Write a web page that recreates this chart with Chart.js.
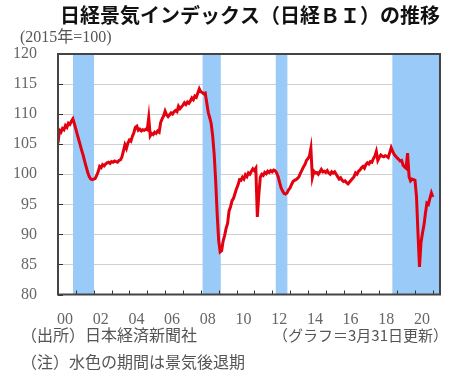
<!DOCTYPE html>
<html lang="ja">
<head>
<meta charset="utf-8">
<script src="https://cdn.jsdelivr.net/npm/chart.js@4"></script>
<style>
  html, body { margin:0; padding:0; background:#fff; }
  canvas { display:block; }
</style>
</head>
<body>
<canvas id="biChart" width="461" height="377"></canvas>
<script>
// 日経BI, monthly, Jan 2000 - Jan 2021 (2015=100)
const startYear = 2000;
const biValues = [
  105.2, 107.3, 107.0, 107.6, 107.4, 108.1, 107.8, 108.5, 108.3, 108.8, 109.2, 108.4, // 2000
  107.5, 106.6, 105.7, 104.8, 103.9, 103.1, 102.1, 101.2, 100.3,  99.6,  99.2,  99.1, // 2001
   99.2,  99.3,  99.8, 100.4, 101.3, 101.1, 101.6, 101.4, 101.7, 101.9, 102.0, 101.8, // 2002
  102.1, 102.0, 102.2, 102.1, 102.0, 102.3, 102.4, 102.9, 103.9, 104.9, 104.3, 105.2, // 2003
  105.7, 105.5, 106.3, 106.9, 107.8, 108.0, 107.3, 107.5, 107.2, 107.4, 107.3, 107.5, // 2004
  107.4, 109.4, 106.4, 106.8, 106.6, 107.0, 106.8, 107.2, 107.0, 108.6, 109.2, 109.7, // 2005
  110.5, 109.9, 109.6, 109.9, 110.2, 110.0, 110.4, 110.6, 110.4, 111.3, 110.9, 111.2, // 2006
  111.5, 111.9, 111.6, 112.0, 111.8, 112.2, 112.7, 112.4, 113.0, 112.8, 113.5, 114.2, // 2007
  113.7, 113.6, 113.4, 113.5, 111.9, 110.3, 109.4, 108.4, 106.3, 103.3,  98.9,  93.4, // 2008
   89.0,  87.1,  87.3,  88.9,  89.8,  91.0,  91.8,  93.9,  94.6,  95.6,  96.0,  96.8, // 2009
   97.6,  98.2,  99.1,  99.0,  99.5,  99.2,  99.9,  99.6, 100.2, 100.0, 100.5, 100.9, // 2010
  100.6, 101.0,  92.9,  96.6,  99.5, 100.0,  99.8, 100.3, 100.1, 100.5, 100.3, 100.6, // 2011
  100.4, 100.7, 100.6, 100.2,  99.6,  98.6,  97.7,  97.2,  96.8,  96.7,  96.9,  97.4, // 2012
   97.7,  98.3,  98.8,  99.0,  99.1,  99.3,  99.6, 100.2, 100.7, 101.2, 101.6, 102.3, // 2013
  102.6, 103.0, 104.3,  99.5, 100.5, 100.2, 100.3, 100.0, 100.4, 100.8, 100.4, 100.5, // 2014
  100.3, 100.6, 100.2, 100.0, 100.4, 100.2, 100.4, 100.0,  99.6,  99.2,  99.4,  99.0, // 2015
   98.8,  98.9,  98.6,  98.4,  98.7,  99.0,  99.3,  99.6, 100.2, 100.0, 100.5, 100.7, // 2016
  101.1, 101.3, 101.0, 101.6, 101.9, 101.7, 102.1, 102.0, 102.6, 103.0, 103.8, 102.3, // 2017
  102.8, 103.2, 103.0, 102.9, 103.1, 103.0, 102.8, 103.6, 104.4, 103.8, 103.3, 103.0, // 2018
  102.7, 102.5, 102.2, 102.3, 101.5, 101.2, 101.0, 103.5,  99.6,  98.9,  99.2,  99.1, // 2019
   99.0,  96.3,  90.2,  84.6,  88.6,  90.2,  91.5,  93.5,  95.2,  95.0,  96.0,  96.9, // 2020
   96.2                                                                                // 2021
];

// recession periods (shaded), as decimal years; null = still open
const recessionStart = [2000.84, 2008.1, 2012.2, 2018.73];
const recessionEnd   = [2002.02, 2009.12, 2012.85, null];

const xTickYears  = [2000, 2002, 2004, 2006, 2008, 2010, 2012, 2014, 2016, 2018, 2020];
const xTickLabels = ['00', '02', '04', '06', '08', '10', '12', '14', '16', '18', '20'];

const points = biValues.map((v, i) => ({ x: startYear + i / 12, y: v }));

const serif = "'Liberation Serif', 'Noto Sans CJK JP', serif";

const decor = {
  id: 'decor',
  beforeDatasetsDraw(chart) {
    const { ctx, chartArea: a, scales: { x } } = chart;
    ctx.save();
    ctx.fillStyle = '#9acbf8';
    recessionStart.forEach((s, i) => {
      const x1 = x.getPixelForValue(s);
      const x2 = recessionEnd[i] == null ? a.right : x.getPixelForValue(recessionEnd[i]);
      ctx.fillRect(x1, a.top, x2 - x1, a.bottom - a.top);
    });
    ctx.restore();
  },
  afterDatasetsDraw(chart) {
    const { ctx, chartArea: a, scales: { x, y } } = chart;
    ctx.save();
    ctx.strokeStyle = '#333';
    ctx.lineWidth = 1;
    // small yearly ticks along the bottom, pointing up
    for (let yr = startYear + 1; yr <= Math.floor(x.max); yr++) {
      const px = Math.round(x.getPixelForValue(yr)) + 0.5;
      ctx.beginPath(); ctx.moveTo(px, a.bottom); ctx.lineTo(px, a.bottom - 4); ctx.stroke();
    }
    // small ticks on the left
    y.ticks.forEach(t => {
      const py = Math.round(y.getPixelForValue(t.value)) + 0.5;
      ctx.beginPath(); ctx.moveTo(a.left, py); ctx.lineTo(a.left + 5, py); ctx.stroke();
    });
    ctx.strokeStyle = '#444';
    ctx.lineWidth = 2;
    ctx.strokeRect(a.left, a.top, a.right - a.left, a.bottom - a.top);
    ctx.restore();
  },
  afterDraw(chart) {
    const ctx = chart.ctx;
    const jp = "'Noto Sans CJK JP', 'Noto Sans', sans-serif";
    ctx.save();
    ctx.textBaseline = 'middle';
    ctx.fillStyle = '#111';
    ctx.font = `bold 20px ${jp}`;
    ctx.textAlign = 'left';
    ctx.fillText('日経景気インデックス（日経ＢＩ）の推移', 60, 15);
    ctx.fillStyle = '#555';
    ctx.font = `16px ${serif}`;
    ctx.fillText('(2015年=100)', 20, 38);
    ctx.font = `16px ${jp}`;
    ctx.fillText('（出所）日本経済新聞社', 21, 335);
    ctx.fillText('（注）水色の期間は景気後退期', 21, 362);
    ctx.textAlign = 'right';
    ctx.font = `15px ${jp}`;
    ctx.fillText('（グラフ＝3月31日更新）', 448, 335);
    ctx.restore();
  }
};

new Chart(document.getElementById('biChart'), {
  type: 'line',
  data: {
    datasets: [{
      data: points,
      borderColor: '#e3000f',
      borderWidth: 3,
      pointRadius: 0,
      tension: 0,
      fill: false
    }]
  },
  options: {
    responsive: false,
    animation: false,
    devicePixelRatio: 1,
    layout: { padding: { top: 54, right: 21, bottom: 0, left: 0 } },
    plugins: { legend: { display: false }, tooltip: { enabled: false } },
    scales: {
      x: {
        type: 'linear',
        min: 2000,
        max: 2021.4,
        afterFit: s => { s.height = 82.5; },
        afterBuildTicks: s => { s.ticks = xTickYears.map(v => ({ value: v })); },
        grid: { display: false },
        border: { display: false },
        ticks: {
          autoSkip: false,
          maxRotation: 0,
          labelOffset: 7,
          padding: 8,
          color: '#666',
          font: { family: serif, size: 16 },
          callback: v => xTickLabels[xTickYears.indexOf(v)]
        }
      },
      y: {
        min: 80,
        max: 120,
        afterFit: s => { s.width = 58; },
        grid: { color: '#cfcfcf', lineWidth: 1, drawTicks: false },
        border: { display: false },
        ticks: {
          stepSize: 5,
          padding: 21,
          color: '#666',
          font: { family: serif, size: 16 }
        }
      }
    }
  },
  plugins: [decor]
});
</script>
</body>
</html>
